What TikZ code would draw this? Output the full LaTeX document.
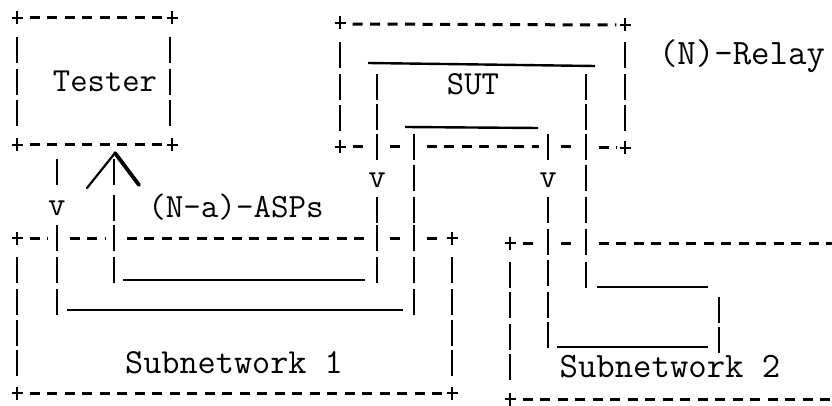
\documentclass[tikz,border=0pt]{standalone}
\tikzset{
  dl/.style={line width=3pt, dash pattern=on 10pt off 7.5pt, dash phase=13.75pt},
  vb/.style={line width=2.4pt},
  us/.style={line width=2.4pt},
  pl/.style={line width=2.4pt},
  lab/.style={inner sep=0pt, anchor=base},
}
\newcommand\myvbar[2]{\draw[vb] (#1,#2-13) -- (#1,#2+13);}
\newcommand\myplus[2]{\draw[pl] (#1-5.5,#2) -- (#1+5.5,#2) (#1,#2-6.5) -- (#1,#2+6.5);}
\newcommand\mydash[3]{\draw[dl] (#1+8.75,#3) -- (#2-8.75,#3);}
\newcommand\tf[1]{\ttfamily\fontsize{#1}{#1}\selectfont}
\begin{document}
\begin{tikzpicture}[x=1pt,y=-1pt]
\useasboundingbox (0,0) rectangle (832,406);
% ---------- Tester box
\myplus{17}{18} \myplus{172}{18} \myplus{17}{145} \myplus{172}{145}
\mydash{17}{172}{18} \mydash{17}{172}{145}
\foreach \y in {50,82,113} {\myvbar{17}{\y} \myvbar{170}{\y}}
\node[lab, font=\tf{33.7}] (tester) at (105,92) {Tester};
% ---------- lines below Tester
\myvbar{57}{172}
\node[lab, font=\tf{34}] (v1) at (57,215) {v};
\foreach \y in {238,270,302} {\myvbar{57}{\y}}
\myvbar{114}{172}
\foreach \y in {208,238,270} {\myvbar{114}{\y}}
\draw[line width=2.2pt, line cap=round] (87,188) -- (115,153);
\draw[line width=3.8pt, line cap=round] (115,153) -- (139,185);
\node[lab, font=\tf{34}] (asps) at (236,218) {(N-a)-ASPs};
% ---------- Subnetwork 1
\myplus{17}{238}
\mydash{17}{57}{238} \mydash{57}{114}{238} \mydash{114}{377}{238}
\mydash{377}{414}{238} \mydash{414}{452}{238}
\myplus{452}{238}
\draw[us] (123,280) -- (365,280);
\draw[us] (67,310) -- (403,310);
\foreach \y in {270,302,333,363} {\myvbar{17}{\y} \myvbar{452}{\y}}
\myplus{17}{393} \mydash{17}{452}{393} \myplus{452}{393}
\node[lab, font=\tf{35.2}] (sub1) at (234,373) {Subnetwork 1};
% ---------- SUT outer box
\myplus{340}{23} \myplus{625}{25}
\draw[dl] (348.75,24) -- (616.25,25);
\foreach \y in {55,87,118} {\myvbar{340}{\y} \myvbar{625}{\y}}
\myplus{340}{147}
\mydash{340}{377}{147} \mydash{377}{414}{147} \mydash{414}{548}{147}
\mydash{548}{586}{147} \mydash{586}{625}{148}
\myplus{625}{148}
% ---------- SUT inner
\draw[us] (368,63) -- (595,66);
\draw[us] (405,127) -- (538,128);
\node[lab, font=\tf{33.7}] (sut) at (473,95) {SUT};
\foreach \y in {87,117,147} {\myvbar{377}{\y}}
\node[lab, font=\tf{34}] (v2) at (377,188) {v};
\foreach \y in {210,238,270} {\myvbar{377}{\y}}
\foreach \y in {147,178,210,238,270,302} {\myvbar{414}{\y}}
\myvbar{548}{147}
\node[lab, font=\tf{34}] (v3) at (548,188) {v};
\foreach \y in {210,242,273,305,335} {\myvbar{548}{\y}}
\foreach \y in {87,117,147,178,210,242,275} {\myvbar{586}{\y}}
\node[lab, font=\tf{35.8}] (relay) at (742,65) {(N)-Relay};
% ---------- Subnetwork 2
\myplus{510}{243}
\mydash{510}{548}{243} \mydash{548}{586}{243}
\draw[dl] (594.75,243) -- (832,243);
\foreach \y in {275,305,337,367} {\myvbar{510}{\y}}
\myplus{510}{399}
\draw[dl] (518.75,399) -- (832,399);
\draw[us] (597,287) -- (708,287);
\draw[us] (557,347) -- (708,347);
\foreach \y in {310,340} {\myvbar{719}{\y}}
\node[lab, font=\tf{35.7}] (sub2) at (670,377) {Subnetwork 2};
\end{tikzpicture}
\end{document}
